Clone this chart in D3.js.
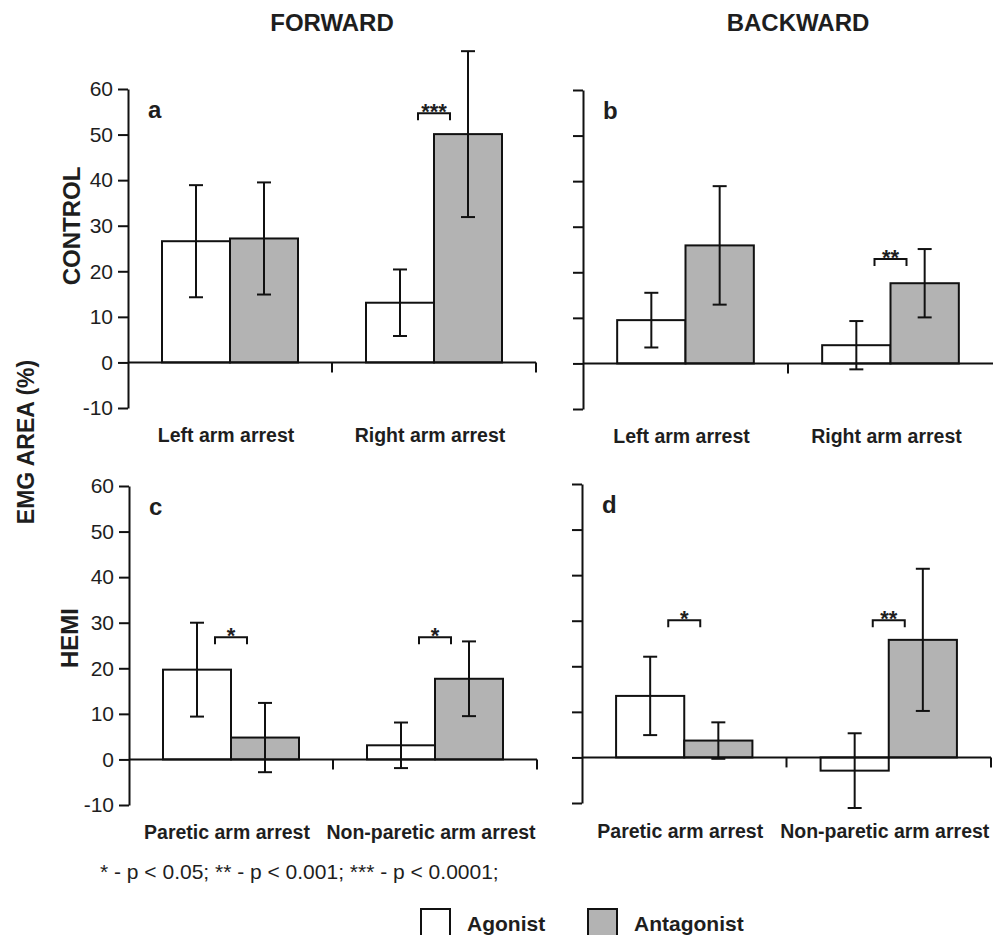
<!DOCTYPE html>
<html>
<head>
<meta charset="utf-8">
<script src="https://cdn.jsdelivr.net/npm/d3@7"></script>
<style>
  body { margin: 0; background: #fff; }
  text { font-family: "Liberation Sans", Arial, sans-serif; fill: #1e1e1e; }
</style>
</head>
<body>
<script>
// data (EMG area, %)
var series = ["Agonist", "Antagonist"];
var controlCats = ["Left arm arrest", "Right arm arrest"];
var hemiCats = ["Paretic arm arrest", "Non-paretic arm arrest"];
var yTicks = [-10, 0, 10, 20, 30, 40, 50, 60];

// [category][series]
var aMean = [[26.6, 27.2], [13.1, 50.1]];
var aErr  = [[12.3, 12.3], [7.3, 18.2]];
var bMean = [[9.5, 25.9], [4.0, 17.6]];
var bErr  = [[6.0, 13.0], [5.3, 7.5]];
var cMean = [[19.7, 4.8], [3.1, 17.7]];
var cErr  = [[10.3, 7.6], [5.0, 8.2]];
var dMean = [[13.5, 3.7], [-2.9, 25.8]];
var dErr  = [[8.6, 4.0], [8.2, 15.6]];

// significance marks per category, and the height (value) of the bracket
var aSig = ["", "***"], aSigAt = [0, 54.7];
var bSig = ["", "**"],  bSigAt = [0, 22.9];
var cSig = ["*", "*"],  cSigAt = [26.8, 26.8];
var dSig = ["*", "**"], dSigAt = [30.1, 30.1];

var width = 999, height = 935;
var gray = "#b3b3b3";
var ink = "#111";

var svg = d3.select("body").append("svg")
  .attr("width", width).attr("height", height);

var color = d3.scaleOrdinal().domain(series).range(["#fff", gray]);

var panels = [
  {id: "a", cats: controlCats, mean: aMean, err: aErr, sig: aSig, sigAt: aSigAt,
   x0: 128, x1: 536, yTop: 89, yBot: 408, labels: true, endTick: true, catY: 442},
  {id: "b", cats: controlCats, mean: bMean, err: bErr, sig: bSig, sigAt: bSigAt,
   x0: 583, x1: 993, yTop: 90, yBot: 409, labels: false, endTick: false, catY: 443},
  {id: "c", cats: hemiCats, mean: cMean, err: cErr, sig: cSig, sigAt: cSigAt,
   x0: 129, x1: 537, yTop: 486, yBot: 805, labels: true, endTick: true, catY: 839},
  {id: "d", cats: hemiCats, mean: dMean, err: dErr, sig: dSig, sigAt: dSigAt,
   x0: 582, x1: 991, yTop: 484, yBot: 803, labels: false, endTick: true, catY: 838}
];

panels.forEach(function(p) {
  var y = d3.scaleLinear().domain([-10, 60]).range([p.yBot, p.yTop]);
  var x = d3.scaleBand().domain(p.cats).range([p.x0, p.x1]);
  var bw = x.bandwidth();
  var xs = d3.scaleBand().domain(series).range([bw / 6, bw * 5 / 6]);
  var g = svg.append("g").attr("class", "panel-" + p.id);

  var rows = [];
  p.cats.forEach(function(c, i) {
    series.forEach(function(s, j) {
      rows.push({c: c, s: s, v: p.mean[i][j], e: p.err[i][j]});
    });
  });

  // bars
  g.selectAll("rect.bar").data(rows).enter().append("rect")
    .attr("class", "bar")
    .attr("x", function(d) { return x(d.c) + xs(d.s); })
    .attr("width", xs.bandwidth())
    .attr("y", function(d) { return y(Math.max(0, d.v)); })
    .attr("height", function(d) { return Math.abs(y(d.v) - y(0)); })
    .attr("fill", function(d) { return color(d.s); })
    .attr("stroke", ink).attr("stroke-width", 2);

  // y axis (plain hyphen for negatives, like the original)
  var yAxis = d3.axisLeft(y).tickValues(yTicks).tickSize(10).tickSizeOuter(0)
    .tickPadding(5).tickFormat(function(d) { return p.labels ? String(d) : ""; });
  g.append("g").attr("transform", "translate(" + p.x0 + ",0)").call(yAxis)
    .attr("font-family", null)
    .call(function(s) { s.selectAll("path, line").attr("stroke", ink).attr("stroke-width", 2); })
    .call(function(s) { s.selectAll("text").attr("font-size", 21).attr("fill", "#1e1e1e"); });

  // x axis at zero
  g.append("line")
    .attr("x1", p.x0).attr("x2", p.x1)
    .attr("y1", y(0)).attr("y2", y(0))
    .attr("stroke", ink).attr("stroke-width", 2);
  var edges = p.cats.map(function(c) { return x(c) + bw; });
  if (!p.endTick) edges = edges.slice(0, -1);
  g.selectAll("line.xtick").data(edges).enter().append("line")
    .attr("class", "xtick")
    .attr("x1", function(d) { return d; }).attr("x2", function(d) { return d; })
    .attr("y1", y(0)).attr("y2", y(0) + 10)
    .attr("stroke", ink).attr("stroke-width", 2);

  // error bars
  var eb = g.selectAll("g.err").data(rows).enter().append("g").attr("class", "err")
    .attr("transform", function(d) { return "translate(" + (x(d.c) + xs(d.s) + xs.bandwidth() / 2) + ",0)"; });
  eb.append("line")
    .attr("y1", function(d) { return y(d.v - d.e); })
    .attr("y2", function(d) { return y(d.v + d.e); })
    .attr("stroke", ink).attr("stroke-width", 2);
  [-1, 1].forEach(function(k) {
    eb.append("line")
      .attr("x1", -7).attr("x2", 7)
      .attr("y1", function(d) { return y(d.v + k * d.e); })
      .attr("y2", function(d) { return y(d.v + k * d.e); })
      .attr("stroke", ink).attr("stroke-width", 2);
  });

  // significance brackets
  p.cats.forEach(function(c, i) {
    if (!p.sig[i]) return;
    var cx = x(c) + bw / 2, yy = y(p.sigAt[i]);
    g.append("path")
      .attr("d", "M" + (cx - 16) + "," + (yy + 7) + "V" + yy + "H" + (cx + 16) + "V" + (yy + 7))
      .attr("fill", "none").attr("stroke", ink).attr("stroke-width", 2);
    g.append("text").attr("x", cx).attr("y", yy + 6)
      .attr("text-anchor", "middle").attr("font-size", 22).attr("font-weight", "bold")
      .text(p.sig[i]);
  });

  // category labels
  g.selectAll("text.cat").data(p.cats).enter().append("text")
    .attr("class", "cat")
    .attr("x", function(d) { return x(d) + bw / 2 - 4; })
    .attr("y", p.catY)
    .attr("text-anchor", "middle").attr("font-size", 19.5).attr("font-weight", "bold")
    .text(function(d) { return d; });

  // panel letter
  g.append("text").attr("x", p.x0 + 20).attr("y", p.yTop + 29)
    .attr("font-size", 24).attr("font-weight", "bold").text(p.id);
});

// column headings
svg.append("text").attr("x", 332).attr("y", 31).attr("text-anchor", "middle")
  .attr("font-size", 24).attr("font-weight", "bold").text("FORWARD");
svg.append("text").attr("x", 798).attr("y", 31).attr("text-anchor", "middle")
  .attr("font-size", 24).attr("font-weight", "bold").text("BACKWARD");

// row titles and y title
svg.append("text").attr("transform", "translate(80,226) rotate(-90)")
  .attr("text-anchor", "middle").attr("font-size", 24).attr("font-weight", "bold").text("CONTROL");
svg.append("text").attr("transform", "translate(78,638) rotate(-90)")
  .attr("text-anchor", "middle").attr("font-size", 24).attr("font-weight", "bold").text("HEMI");
svg.append("text").attr("transform", "translate(34,442) rotate(-90)")
  .attr("text-anchor", "middle").attr("font-size", 23).attr("font-weight", "bold").text("EMG AREA (%)");

// footnote
svg.append("text").attr("x", 100).attr("y", 879).attr("font-size", 21)
  .text("* - p < 0.05; ** - p < 0.001; *** - p < 0.0001;");

// legend
var legendX = [421, 588];
var lg = svg.selectAll("g.legend").data(series).enter().append("g").attr("class", "legend")
  .attr("transform", function(d, i) { return "translate(" + legendX[i] + ",909)"; });
lg.append("rect").attr("width", 29).attr("height", 30)
  .attr("fill", function(d) { return color(d); })
  .attr("stroke", ink).attr("stroke-width", 2);
lg.append("text").attr("x", 46).attr("y", 22).attr("font-size", 21).attr("font-weight", "bold")
  .text(function(d) { return d; });
</script>
</body>
</html>
